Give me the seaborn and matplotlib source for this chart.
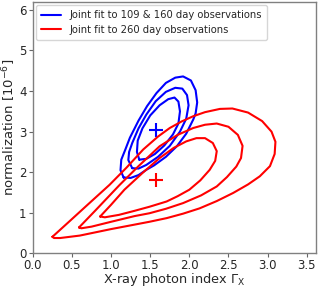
import matplotlib
matplotlib.use("Agg")
import matplotlib.pyplot as plt
import seaborn as sns
import pandas as pd

# Best-fit points (photon index, normalization [1e-6])
best_blue = (1.58, 3.05)
best_red = (1.58, 1.80)

# Contours: blue = joint fit 109 & 160 day, red = 260 day
blue_outer_x = [1.16, 1.12, 1.13, 1.18, 1.24, 1.35, 1.46, 1.58, 1.70, 1.82, 1.92, 2.02, 2.08, 2.10, 2.08, 2.05, 1.96, 1.84, 1.70, 1.55, 1.45, 1.35, 1.25, 1.16]
blue_outer_y = [1.87, 2.05, 2.31, 2.55, 2.85, 3.27, 3.63, 3.95, 4.20, 4.33, 4.36, 4.26, 4.02, 3.72, 3.45, 3.30, 2.95, 2.64, 2.38, 2.17, 2.06, 1.93, 1.86, 1.87]
blue_mid_x = [1.27, 1.22, 1.23, 1.27, 1.35, 1.45, 1.57, 1.70, 1.82, 1.91, 1.97, 1.99, 1.96, 1.88, 1.75, 1.60, 1.45, 1.35, 1.27]
blue_mid_y = [2.10, 2.30, 2.50, 2.72, 3.08, 3.42, 3.75, 3.98, 4.08, 4.06, 3.90, 3.65, 3.32, 3.00, 2.65, 2.38, 2.18, 2.09, 2.10]
blue_in_x = [1.36, 1.33, 1.34, 1.40, 1.50, 1.62, 1.73, 1.81, 1.86, 1.88, 1.86, 1.79, 1.68, 1.56, 1.45, 1.36]
blue_in_y = [2.31, 2.50, 2.78, 3.08, 3.40, 3.65, 3.80, 3.84, 3.74, 3.50, 3.20, 2.93, 2.66, 2.45, 2.33, 2.31]

red_outer_x = [0.25, 0.45, 0.70, 0.98, 1.20, 1.41, 1.60, 1.75, 1.90, 2.05, 2.20, 2.39, 2.55, 2.75, 2.93, 3.05, 3.10, 3.09, 3.03, 2.90, 2.75, 2.56, 2.35, 2.13, 1.92, 1.71, 1.49, 1.30, 1.00, 0.60, 0.35, 0.27, 0.25]
red_outer_y = [0.41, 0.76, 1.20, 1.69, 2.12, 2.56, 2.88, 3.09, 3.25, 3.38, 3.48, 3.56, 3.57, 3.47, 3.26, 3.00, 2.75, 2.45, 2.15, 1.90, 1.70, 1.49, 1.29, 1.11, 0.98, 0.87, 0.78, 0.71, 0.60, 0.44, 0.38, 0.38, 0.41]
red_mid_x = [0.59, 0.80, 1.11, 1.35, 1.62, 1.85, 2.05, 2.20, 2.35, 2.50, 2.62, 2.68, 2.66, 2.60, 2.48, 2.35, 2.15, 1.92, 1.70, 1.49, 1.30, 1.00, 0.75, 0.62, 0.59]
red_mid_y = [0.64, 1.06, 1.69, 2.15, 2.64, 2.92, 3.09, 3.17, 3.20, 3.12, 2.92, 2.65, 2.35, 2.14, 1.88, 1.65, 1.43, 1.24, 1.10, 0.99, 0.92, 0.78, 0.66, 0.62, 0.64]
red_in_x = [0.86, 1.00, 1.17, 1.40, 1.62, 1.80, 1.96, 2.09, 2.20, 2.30, 2.35, 2.33, 2.26, 2.14, 2.00, 1.85, 1.71, 1.49, 1.30, 1.10, 0.92, 0.86]
red_in_y = [0.91, 1.20, 1.57, 1.98, 2.35, 2.60, 2.76, 2.84, 2.84, 2.72, 2.52, 2.28, 2.06, 1.80, 1.57, 1.41, 1.28, 1.15, 1.05, 0.95, 0.89, 0.91]

label_blue = "Joint fit to 109 & 160 day observations"
label_red = "Joint fit to 260 day observations"

x_ticks = [0.0, 0.5, 1.0, 1.5, 2.0, 2.5, 3.0, 3.5]
y_ticks = [0, 1, 2, 3, 4, 5, 6]

sns.set_style("ticks")
plt.rcParams['font.family'] = ['DejaVu Sans']

fig = plt.figure(figsize=(3.19, 2.88), dpi=100)
ax = fig.add_axes([0.103, 0.12, 0.888, 0.874])

contours = [
    (blue_outer_x, blue_outer_y, "blue", label_blue),
    (blue_mid_x, blue_mid_y, "blue", None),
    (blue_in_x, blue_in_y, "blue", None),
    (red_outer_x, red_outer_y, "red", label_red),
    (red_mid_x, red_mid_y, "red", None),
    (red_in_x, red_in_y, "red", None),
]
for xs, ys, col, lab in contours:
    df = pd.DataFrame({"x": xs, "y": ys})
    sns.lineplot(data=df, x="x", y="y", sort=False, estimator=None,
                 color=col, lw=1.5, ax=ax, label=lab,
                 solid_joinstyle="round", solid_capstyle="round")

sns.scatterplot(x=[best_blue[0]], y=[best_blue[1]], marker="+", s=90,
                color="blue", linewidth=1.5, ax=ax, legend=False)
sns.scatterplot(x=[best_red[0]], y=[best_red[1]], marker="+", s=90,
                color="red", linewidth=1.5, ax=ax, legend=False)

ax.set_xlim(0, 3.62)
ax.set_ylim(0, 6.2)
ax.set_xticks(x_ticks)
ax.set_yticks(y_ticks)
ax.set_xticklabels([f"{v:.1f}" for v in x_ticks])
ax.set_yticklabels([str(v) for v in y_ticks])
ax.tick_params(labelsize=8.5, length=3, width=0.8, color="0.4", pad=1.5)
ax.tick_params(axis="x", pad=1)
for s in ax.spines.values():
    s.set_visible(True)
    s.set_color("0.5")
    s.set_linewidth(1.0)
ax.set_xlabel(r"X-ray photon index $\Gamma_\mathrm{X}$", fontsize=9.3, labelpad=-0.5)
ax.set_ylabel(r"normalization [$10^{-6}$]", fontsize=9.5, labelpad=1)

ax.legend(loc="upper left", fontsize=7.2, handlelength=2.0, handletextpad=0.8,
          frameon=True, borderaxespad=0.35, borderpad=0.5, labelspacing=0.45)

fig.savefig("out.png", dpi=100)
